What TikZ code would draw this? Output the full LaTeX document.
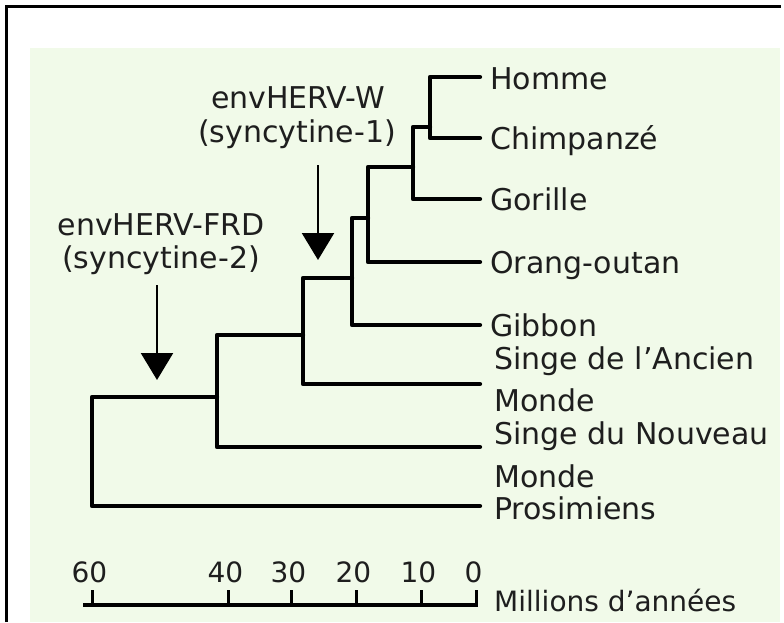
\documentclass[tikz,border=0pt]{standalone}
\usepackage{fontspec}
\setmainfont{DejaVu Sans}
\usetikzlibrary{arrows.meta}
\definecolor{bggreen}{RGB}{241,250,233}
\definecolor{ink}{RGB}{30,30,30}
\begin{document}
\begin{tikzpicture}[x=1pt,y=1pt,
  branch/.style={line width=4.3pt, line cap=round, line join=round, draw=black},
  leaf/.style={anchor=base west, inner sep=0pt, font=\fontsize{30}{36}\selectfont, text=ink},
  tag/.style={anchor=base, inner sep=0pt, font=\fontsize{30}{36}\selectfont, text=ink},
  axlab/.style={anchor=base, inner sep=0pt, font=\fontsize{28}{34}\selectfont, text=ink},
  marker/.style={line width=2.3pt, draw=black, -{Triangle[width=32pt,length=27pt]}},
  tickmark/.style={line width=3pt, draw=black},
]
\useasboundingbox (0,0) rectangle (784,-622);
\fill[white] (0,0) rectangle (784,-622);
\fill[bggreen] (30,-48) rectangle (780,-622);
\draw[line width=3pt] (6.5,-622) -- (6.5,-6.5) -- (781,-6.5);

% leaf ends
\coordinate (lHomme) at (480,-77);
\coordinate (lChimp) at (480,-138);
\coordinate (lGor) at (480,-199);
\coordinate (lOrang) at (480,-262);
\coordinate (lGib) at (480,-325);
\coordinate (lSAM) at (480,-384);
\coordinate (lSNM) at (480,-447);
\coordinate (lPro) at (480,-506);
% internal nodes
\coordinate (nHC) at (430,-127);
\coordinate (nHCG) at (413,-167);
\coordinate (nHCGO) at (368,-218);
\coordinate (nHom) at (352,-278);
\coordinate (nCat) at (303,-335);
\coordinate (nAnth) at (217,-397);
\coordinate (nRoot) at (92,-450);

\draw[branch] (nHC) |- (lHomme);
\draw[branch] (nHC) |- (lChimp);
\draw[branch] (nHCG) |- (nHC);
\draw[branch] (nHCG) |- (lGor);
\draw[branch] (nHCGO) |- (nHCG);
\draw[branch] (nHCGO) |- (lOrang);
\draw[branch] (nHom) |- (nHCGO);
\draw[branch] (nHom) |- (lGib);
\draw[branch] (nCat) |- (nHom);
\draw[branch] (nCat) |- (lSAM);
\draw[branch] (nAnth) |- (nCat);
\draw[branch] (nAnth) |- (lSNM);
\draw[branch] (nRoot) |- (nAnth);
\draw[branch] (nRoot) |- (lPro);

% leaf labels
\node[leaf] (tHomme) at (490,-89) {Homme};
\node[leaf] (tChimp) at (490,-149.5) {Chimpanzé};
\node[leaf] (tGor) at (490,-210.5) {Gorille};
\node[leaf] (tOrang) at (490,-273.5) {Orang-outan};
\node[leaf] (tGib) at (490,-336.5) {Gibbon};
\node[leaf] (tSAMa) at (494,-369) {Singe de l’Ancien};
\node[leaf] (tSAMb) at (494,-411) {Monde};
\node[leaf] (tSNMa) at (494,-444) {Singe du Nouveau};
\node[leaf] (tSNMb) at (494,-487) {Monde};
\node[leaf] (tPro) at (494,-519) {Prosimiens};

% insertion labels and arrows
\node[tag] (w1) at (298,-108) {envHERV-W};
\node[tag] (w2) at (297,-142) {(syncytine-1)};
\node[tag] (f1) at (161,-235) {envHERV-FRD};
\node[tag] (f2) at (161,-268) {(syncytine-2)};
\coordinate (a1s) at (318,-165);
\coordinate (a1e) at (318,-260);
\coordinate (a2s) at (157,-285);
\coordinate (a2e) at (157,-380);
\draw[marker] (a1s) -- (a1e);
\draw[marker] (a2s) -- (a2e);

% time axis
\coordinate (ax0) at (83,-605);
\coordinate (ax1) at (478,-605);
\draw[line width=4pt] (ax0) -- (ax1);
\foreach \x/\v in {92/60,228/40,291/30,356/20,421/10,476/0} {
  \draw[tickmark] (\x,-605) -- (\x,-590);
  \node[axlab] (lab\v) at (\x-2.5,-582) {\v};
}
\node[leaf, font=\fontsize{28}{34}\selectfont] (unit) at (494,-611) {Millions d’années};
\end{tikzpicture}
\end{document}
